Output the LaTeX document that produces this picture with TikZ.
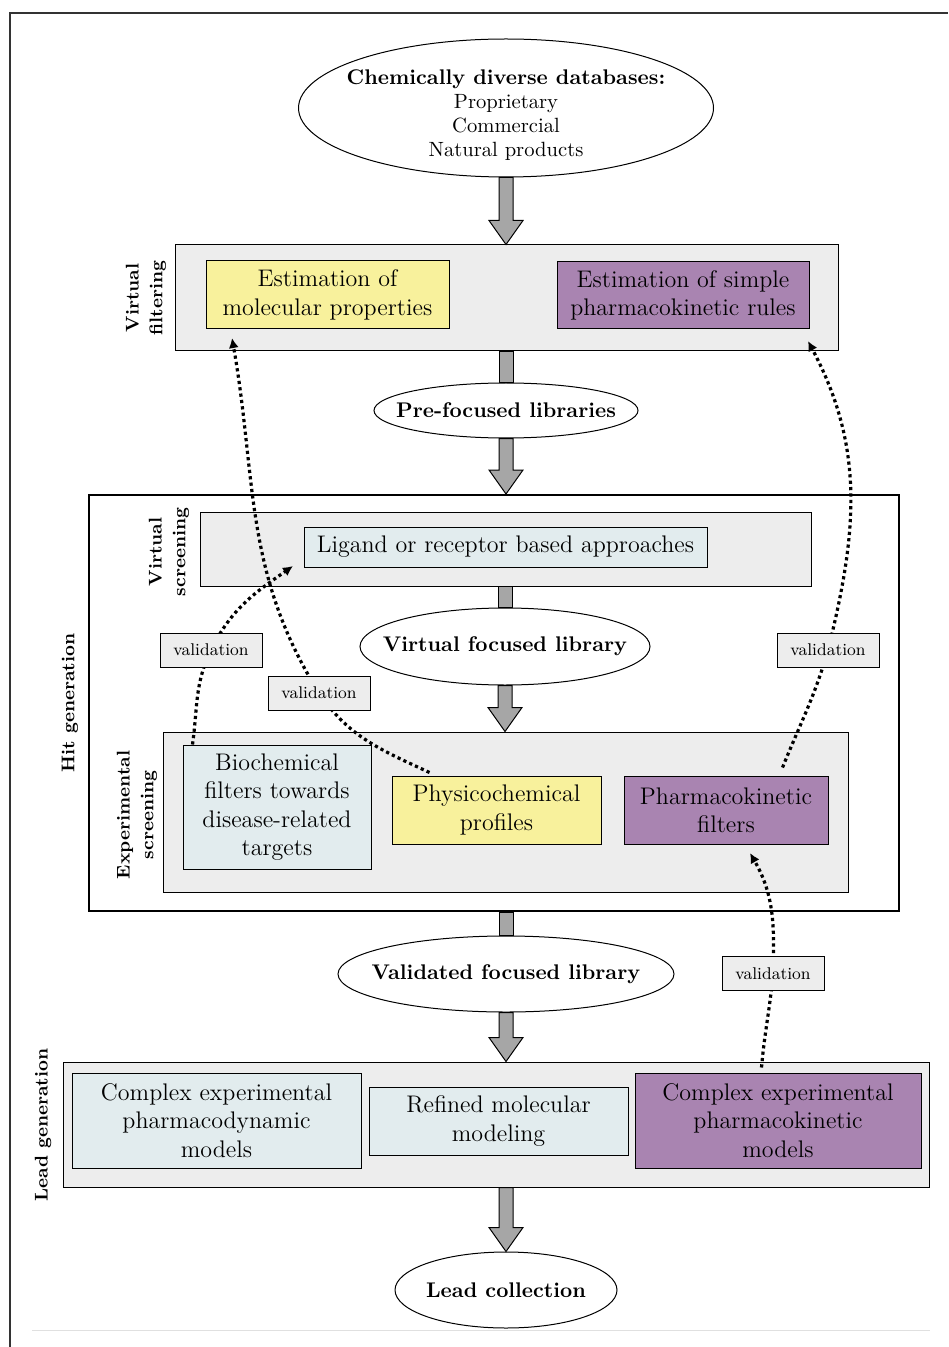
\documentclass[tikz,border=0pt]{standalone}
\usepackage{tikz}
\usetikzlibrary{shapes.geometric,arrows.meta,calc}
\definecolor{panelgray}{RGB}{237,237,237}
\definecolor{pastelyellow}{RGB}{248,241,156}
\definecolor{mauve}{RGB}{169,132,177}
\definecolor{paleblue}{RGB}{226,236,238}
\definecolor{shaftgray}{RGB}{166,166,166}
\pgfdeclarelayer{front}
\pgfsetlayers{main,front}
% big grey arrows between the stages
\newcommand{\bigarrow}[2]{%
\filldraw[fatarrow] let \p1=(#1), \p2=(#2) in
  (\x1-3.5pt,\y1) -- (\x1-3.5pt,\y2+12pt) -- (\x1-8.5pt,\y2+12pt) -- (\x1,\y2)
  -- (\x1+8.5pt,\y2+12pt) -- (\x1+3.5pt,\y2+12pt) -- (\x1+3.5pt,\y1) -- cycle;}
\newcommand{\bigbar}[2]{%
\filldraw[fatarrow] let \p1=(#1), \p2=(#2) in
  (\x1-3.5pt,\y1) rectangle (\x1+3.5pt,\y2);}

\begin{document}
\begin{tikzpicture}[x=0.5pt,y=-0.5pt,
  panel/.style={draw, fill=panelgray, line width=0.5pt, inner sep=0pt},
  card/.style={draw, line width=0.5pt, inner sep=0pt, align=center, font=\fontsize{12}{14.2}\selectfont},
  bubble/.style={draw, ellipse, fill=white, line width=0.5pt, inner sep=0pt},
  bubbletext/.style={align=center, font=\fontsize{10.6}{12}\selectfont\bfseries},
  valbox/.style={draw, fill=panelgray, line width=0.5pt, inner sep=0pt, minimum width=51pt, minimum height=17pt, font=\fontsize{8.5}{10}\selectfont},
  sidelabel/.style={rotate=90, align=center, font=\fontsize{9.2}{11.8}\selectfont\bfseries},
  fatarrow/.style={fill=shaftgray, draw=black, line width=0.5pt},
  valarrow/.style={line width=1.6pt, dash pattern=on 1.6pt off 1.6pt, -{Latex[length=5pt,width=5pt]}}]
\useasboundingbox (0,0) rectangle (948,1347);
\draw[line width=0.7pt, black!80] (10,1347) -- (10,13) -- (948,13);
\draw[black!12, line width=0.5pt] (32,1330) -- (930,1330);

% databases
\node[bubble, minimum width=207.5pt, minimum height=69pt,
  label={[align=center, yshift=-3.5pt, font=\fontsize{10.3}{12}\selectfont]center:{\fontsize{10.6}{12.5}\selectfont\bfseries Chemically diverse databases:}\\Proprietary\\Commercial\\Natural products}] (db) at (506,108) {};

% virtual filtering
\node[panel, minimum width=331.5pt, minimum height=53pt] (vfilt) at (506.5,298) {};
\node[card, fill=pastelyellow, minimum width=121.5pt, minimum height=34pt] (molprop) at (327.5,295) {Estimation of\\molecular properties};
\node[card, fill=mauve, minimum width=126pt, minimum height=33.5pt] (pkrules) at (683,295.5) {Estimation of simple\\pharmacokinetic rules};
\node[sidelabel] (vfiltlab) at (146,298) {Virtual\\filtering};

\node[bubble, minimum width=132pt, minimum height=27.5pt, label={[bubbletext]center:Pre-focused libraries}] (pre) at (506,410.5) {};

% hit generation
\node[draw, fill=white, line width=1pt, inner sep=0pt, minimum width=405pt, minimum height=208pt] (hitgen) at (494,703) {};
\node[sidelabel] (hitlab) at (70,703) {Hit generation};

\node[panel, minimum width=305.5pt, minimum height=37pt] (vscreen) at (505.5,549) {};
\node[card, fill=paleblue, minimum width=201.5pt, minimum height=20pt] (ligand) at (505.5,547) {Ligand or receptor based approaches};
\node[sidelabel] (vscrlab) at (169,552) {Virtual\\screening};

\node[bubble, minimum width=145pt, minimum height=38.5pt, label={[bubbletext]center:Virtual focused library}] (vfocus) at (505,646.5) {};

\node[panel, minimum width=342.5pt, minimum height=80pt] (expscreen) at (505.5,812) {};
\node[sidelabel] (explab) at (137,815) {Experimental\\screening};
\node[card, fill=paleblue, minimum width=94pt, minimum height=62pt] (biochem) at (277,807) {Biochemical\\filters towards\\disease-related\\targets};
\node[card, fill=pastelyellow, minimum width=104.5pt, minimum height=34pt] (physchem) at (496.5,810) {Physicochemical\\profiles};
\node[card, fill=mauve, minimum width=102pt, minimum height=34pt] (pkfilt) at (726,810) {Pharmacokinetic\\filters};

\node[bubble, minimum width=168pt, minimum height=38pt, label={[bubbletext]center:Validated focused library}] (valid) at (506,974) {};

% lead generation
\node[panel, minimum width=433pt, minimum height=62.5pt] (leadgen) at (496,1124.5) {};
\node[sidelabel] (leadlab) at (43,1125) {Lead generation};
\node[card, fill=paleblue, minimum width=144.5pt, minimum height=47.5pt] (pdmodels) at (216.5,1120.5) {Complex experimental\\pharmacodynamic\\models};
\node[card, fill=paleblue, minimum width=129.5pt, minimum height=34pt] (refined) at (498.5,1121) {Refined molecular\\modeling};
\node[card, fill=mauve, minimum width=143pt, minimum height=47.5pt] (pkmodels) at (778,1120.5) {Complex experimental\\pharmacokinetic\\models};

\node[bubble, minimum width=111pt, minimum height=38pt, label={[bubbletext]center:Lead collection}] (leadcoll) at (506,1290) {};

% grey flow
\bigarrow{db.south}{vfilt.north}
\bigbar{vfilt.south}{pre.north}
\bigarrow{pre.south}{hitgen.north}
\bigbar{vscreen.south}{vfocus.north}
\bigarrow{vfocus.south}{expscreen.north}
\bigbar{hitgen.south -| valid.north}{valid.north}
\bigarrow{valid.south}{leadgen.north}
\bigarrow{leadgen.south -| leadcoll.north}{leadcoll.north}

% validation loops
\begin{pgfonlayer}{front}
\node[valbox] (v1) at (211,650) {validation};
\node[valbox] (v2) at (319,693) {validation};
\node[valbox] (v3) at (828,650) {validation};
\node[valbox] (v4) at (773,973.5) {validation};
\end{pgfonlayer}
\coordinate (s1) at ([xshift=19pt,yshift=1.5pt]physchem.north west);
\coordinate (s2) at ([xshift=5pt]biochem.north west);
\coordinate (s3) at ([xshift=79.5pt,yshift=4pt]pkfilt.north west);
\coordinate (s4) at ([xshift=63.5pt,yshift=2.5pt]pkmodels.north west);
\coordinate (t1) at (232,338);
\coordinate (t2) at (293,566);
\coordinate (t3) at (808,341);
\coordinate (t4) at (750,853);
\draw[valarrow] (s1) to[out=155,in=-56] (v2.center) to[out=122,in=-80] (t1);
\draw[valarrow] (s2) to[out=82,in=-116] (v1.center) to[out=64,in=-145] (t2);
\draw[valarrow] (s3) to[out=68,in=-106] (v3.center) to[out=76,in=-62] (t3);
\draw[valarrow] (s4) to[out=85,in=-95] (v4.center) to[out=88,in=-60] (t4);

\end{tikzpicture}
\end{document}
